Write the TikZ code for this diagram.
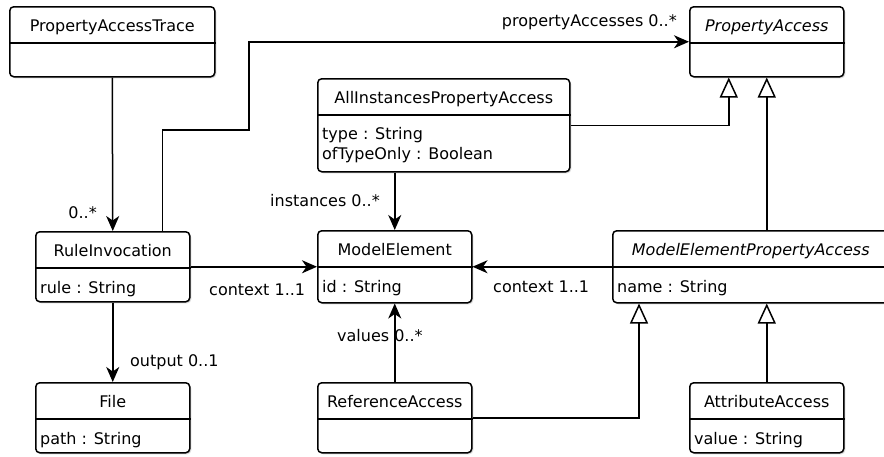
\documentclass[tikz,border=0pt]{standalone}
\usepackage{fontspec}
\setmainfont{DejaVu Sans}
\usetikzlibrary{arrows.meta, positioning, shadows}

\begin{document}
\begin{tikzpicture}[x=1pt, y=-1pt,
      font=\fontsize{16}{20}\selectfont,
      classbox/.style={rectangle, draw, line width=1.5pt, rounded corners=4pt, fill=white, inner sep=0pt, anchor=north west,
        drop shadow={shadow xshift=1.5pt, shadow yshift=-1.5pt, opacity=0.3}},
      ctitle/.style={anchor=base, inner sep=0pt},
      attr/.style={anchor=base west, inner sep=0pt},
      role/.style={inner sep=0pt},
      assoc/.style={-{Stealth[length=15pt, width=13pt, inset=4.5pt]}, line width=1.5pt},
      inherit/.style={-{Triangle[open, length=20pt, width=18pt]}, line width=1.5pt}]

      \useasboundingbox (0,0) rectangle (884,456);

      % Classes
      \node[classbox, minimum width=205pt, minimum height=70pt] (trace) at (9,6) {};
      \node[classbox, minimum width=154pt, minimum height=70pt] (pa) at (689,6) {};
      \node[classbox, minimum width=252pt, minimum height=93pt] (allinst) at (317,78) {};
      \node[classbox, minimum width=154pt, minimum height=70pt] (rule) at (35,231) {};
      \node[classbox, minimum width=154pt, minimum height=72pt] (me) at (317,230) {};
      \node[classbox, minimum width=276pt, minimum height=72pt] (mepa) at (612,230) {};
      \node[classbox, minimum width=154pt, minimum height=70pt] (file) at (35,382) {};
      \node[classbox, minimum width=154pt, minimum height=70pt] (ref) at (317,382) {};
      \node[classbox, minimum width=154pt, minimum height=70pt] (attr) at (689,382) {};

      \foreach \c in {trace, pa, allinst, rule, me, mepa, file, ref, attr} {
        \draw[line width=1.5pt] ([yshift=-37pt]\c.north west) -- ([yshift=-37pt]\c.north east);
      }

      % Names
      \node[ctitle] (traceT) at ([yshift=-25pt]trace.north) {PropertyAccessTrace};
      \node[ctitle] (paT) at ([yshift=-25pt]pa.north) {\itshape PropertyAccess};
      \node[ctitle] (allinstT) at ([yshift=-25pt]allinst.north) {AllInstancesPropertyAccess};
      \node[ctitle] (ruleT) at ([yshift=-25pt]rule.north) {RuleInvocation};
      \node[ctitle] (meT) at ([yshift=-25pt]me.north) {ModelElement};
      \node[ctitle] (mepaT) at ([yshift=-25pt]mepa.north) {\itshape ModelElementPropertyAccess};
      \node[ctitle] (fileT) at ([yshift=-25pt]file.north) {File};
      \node[ctitle] (refT) at ([yshift=-25pt]ref.north) {ReferenceAccess};
      \node[ctitle] (attrT) at ([yshift=-25pt]attr.north) {AttributeAccess};

      % Attributes
      \node[attr] (allinstA) at ([xshift=5pt, yshift=-61pt]allinst.north west) {type : String};
      \node[attr] (allinstB) at ([xshift=5pt, yshift=-81pt]allinst.north west) {ofTypeOnly : Boolean};
      \node[attr] (ruleA) at ([xshift=5pt, yshift=-62pt]rule.north west) {rule : String};
      \node[attr] (meA) at ([xshift=5pt, yshift=-62pt]me.north west) {id : String};
      \node[attr] (mepaA) at ([xshift=5pt, yshift=-62pt]mepa.north west) {name : String};
      \node[attr] (fileA) at ([xshift=5pt, yshift=-62pt]file.north west) {path : String};
      \node[attr] (attrA) at ([xshift=5pt, yshift=-62pt]attr.north west) {value : String};

      % Associations
      \draw[assoc] (trace.south) -- (rule.north);
      \draw[assoc] ([xshift=-28pt]rule.north east) |- (249,130) |- (pa.west);
      \draw[assoc] (allinst.south -| me.north) -- (me.north);
      \draw[assoc] (rule.east) -- (me.west);
      \draw[assoc] (mepa.west) -- (me.east);
      \draw[assoc] (rule.south) -- (file.north);
      \draw[assoc] (ref.north) -- (me.south);

      % Generalizations
      \draw[inherit] (allinst.east) -| ([xshift=-38pt]pa.south);
      \draw[inherit] (pa.south |- mepa.north) -- (pa.south);
      \draw[inherit] (ref.east) -| ([xshift=27pt]mepa.south west);
      \draw[inherit] (attr.north) -- (attr.north |- mepa.south);

      % Roles
      \node[role, anchor=base east] (lblTrace) at (97,218) {0..*};
      \node[role, anchor=base east] (lblAcc) at (677,26) {propertyAccesses 0..*};
      \node[role, anchor=base east] (lblInst) at (380,206) {instances 0..*};
      \node[role, anchor=base west] (lblCtxA) at (209,295) {context 1..1};
      \node[role, anchor=base west] (lblCtxB) at (493,292) {context 1..1};
      \node[role, anchor=base west] (lblOut) at (130,366) {output 0..1};
      \node[role, anchor=base west] (lblVal) at (337,341) {values 0..*};
    \end{tikzpicture}
\end{document}
